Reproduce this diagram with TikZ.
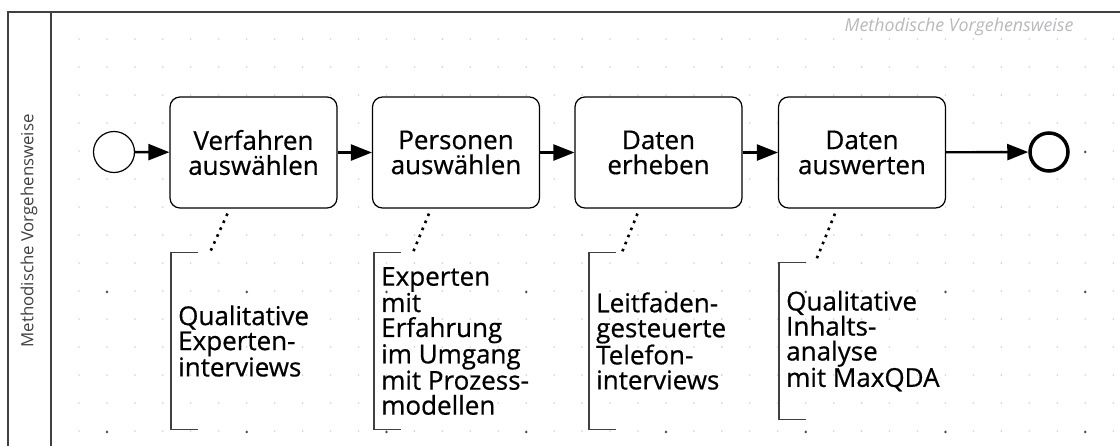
\documentclass[tikz,border=0pt]{standalone}
\usepackage{fontspec}
\setmainfont{Open Sans}
\newfontfamily\labelfont{Open Sans}[FakeBold=0.6]
\usetikzlibrary{arrows.meta}
\definecolor{lanegray}{rgb}{0.25,0.25,0.25}
\definecolor{titlegray}{rgb}{0.72,0.72,0.74}
\tikzset{frame/.style={line width=1.4pt, lanegray}}
\tikzset{task/.style={draw, line width=1.2pt, rounded corners=10pt, fill=white, minimum width=167pt, minimum height=111pt, align=center, font=\labelfont\fontsize{26}{25}\selectfont}}
\tikzset{startev/.style={draw, circle, line width=1.2pt, fill=white, minimum size=41pt, inner sep=0pt}}
\tikzset{endev/.style={draw, circle, line width=3.5pt, fill=white, minimum size=38pt, inner sep=0pt}}
\tikzset{flow/.style={line width=2.4pt, -{Triangle[length=21pt, width=16pt]}}}
\tikzset{note/.style={anchor=west, minimum height=177pt, inner xsep=7pt, align=left, font=\labelfont\fontsize{26}{25}\selectfont}}
\tikzset{bracket/.style={line width=1.2pt, lanegray}}
\tikzset{assoc/.style={line width=2.6pt, dash pattern=on 2.6pt off 5pt}}

\begin{document}
\begin{tikzpicture}[x=1pt, y=-1pt]
\useasboundingbox (0,0) rectangle (1120,445);
\def\dx{27.95}
\def\dy{28}
\foreach \i in {0,...,37}
  \foreach \j in {0,...,14}
    \fill[gray!35] (79+\i*\dx, 39+\j*\dy) circle (0.9pt);
\foreach \i in {0,...,7}
  \foreach \j in {0,...,2}
    \fill[gray!60!black] (107+\i*5*\dx, 152+\j*5*\dy) circle (1.3pt);
\draw[frame] (1125,12) -- (8,12) -- (8,450);
\draw[frame] (51,12) -- (51,450);
\node[rotate=90, lanegray, font=\fontsize{16.8}{18}\selectfont] (lane) at (29,231) {Methodische Vorgehensweise};
\node[anchor=east, titlegray, font=\fontsize{17.8}{19}\itshape] (pool) at (1077,27) {Methodische Vorgehensweise};

\node[startev] (start) at (114,152) {};
\node[task] (t1) at (253.5,152.5) {Verfahren\\auswählen};
\node[task] (t2) at (456,152.5) {Personen\\auswählen};
\node[task] (t3) at (658.5,152.5) {Daten\\erheben};
\node[task] (t4) at (862,152.5) {Daten\\auswerten};
\node[endev] (stop) at (1049,152) {};
\draw[flow] (start) -- (t1);
\draw[flow] (t1) -- (t2);
\draw[flow] (t2) -- (t3);
\draw[flow] (t3) -- (t4);
\draw[flow] (t4) -- (stop);

\node[note] (n1) at (171,341) {Qualitative\\Experten-\\interviews};
\node[note] (n2) at (374,341) {Experten\\mit\\Erfahrung\\im Umgang\\mit Prozess-\\modellen};
\node[note] (n3) at (589,341) {Leitfaden-\\gesteuerte\\Telefon-\\interviews};
\node[note, minimum height=156pt] (n4) at (779,341) {Qualitative\\Inhalts-\\analyse\\mit MaxQDA};
\draw[bracket] ([xshift=27pt]n1.north west) -| (n1.south west) -- ++(27pt,0);
\draw[bracket] ([xshift=27pt]n2.north west) -| (n2.south west) -- ++(27pt,0);
\draw[bracket] ([xshift=27pt]n3.north west) -| (n3.south west) -- ++(27pt,0);
\draw[bracket] ([xshift=27pt]n4.north west) -| (n4.south west) -- ++(27pt,0);
\draw[assoc] ([xshift=-26pt, yshift=-5pt]t1.south) -- ([xshift=39pt]n1.north west);
\draw[assoc] ([xshift=-27pt, yshift=-5pt]t2.south) -- ([xshift=39pt]n2.north west);
\draw[assoc] ([xshift=-21pt, yshift=-5pt]t3.south) -- ([xshift=33pt]n3.north west);
\draw[assoc] ([xshift=-27pt, yshift=-5pt]t4.south) -- ([xshift=36pt]n4.north west);

\end{tikzpicture}
\end{document}
